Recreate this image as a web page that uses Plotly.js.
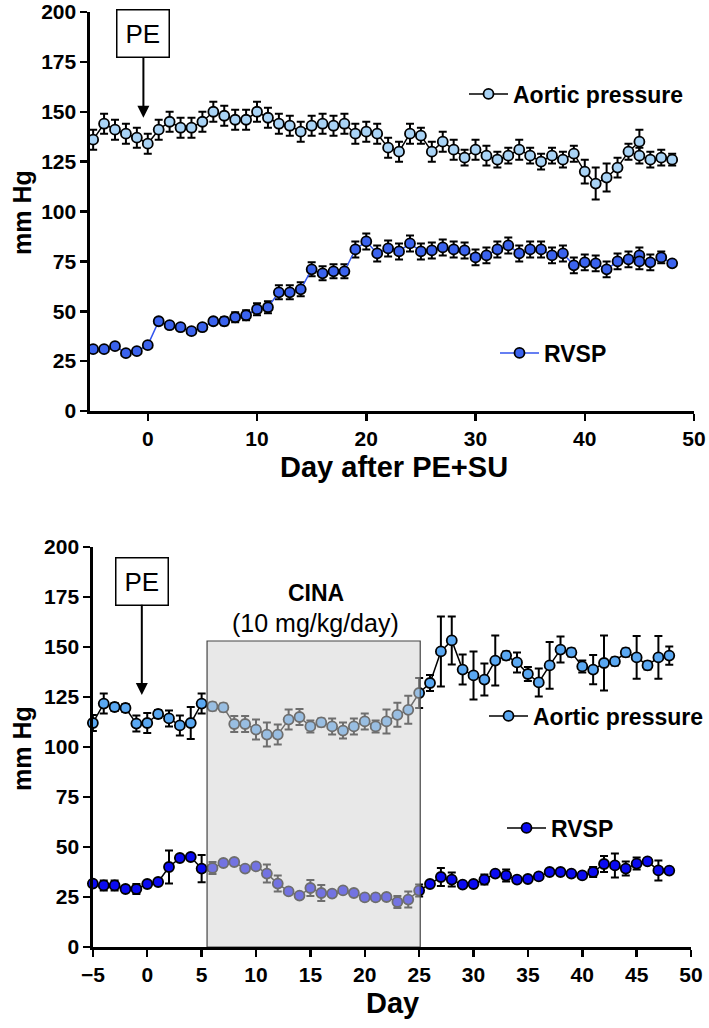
<!DOCTYPE html>
<html>
<head>
<meta charset="utf-8">
<script src="https://cdn.plot.ly/plotly-3.0.1.min.js"></script>
<style>
  html, body { margin: 0; padding: 0; background: #fff; }
  #chart { width: 709px; height: 1028px; }
</style>
</head>
<body>
<div id="chart"></div>
<script>
  // --- Top panel: PE+SU model (day 45 was measured twice) ---
  const topDays = [-5, -4, -3, -2, -1, 0, 1, 2, 3, 4, 5, 6, 7, 8, 9, 10, 11, 12, 13, 14,
    15, 16, 17, 18, 19, 20, 21, 22, 23, 24, 25, 26, 27, 28, 29, 30, 31, 32, 33, 34,
    35, 36, 37, 38, 39, 40, 41, 42, 43, 44, 45, 45, 46, 47, 48];
  const topAortic = [136, 144, 141, 139, 137, 134, 141, 145, 142, 142, 145, 150, 148, 146, 146, 150, 147, 144, 143, 140,
    143, 144, 143, 144, 139, 140, 139, 132, 130, 139, 138, 130, 135, 131, 127, 131, 128, 126, 128, 131,
    128, 125, 128, 126, 129, 120, 114, 117, 122, 130, 135, 128, 126, 127, 126];
  const topAorticErr = [5, 5, 5, 5, 5, 5, 5, 5, 5, 5, 5, 5, 5, 5, 5, 5, 5, 5, 5, 5,
    5, 5, 5, 5, 5, 5, 5, 5, 5, 5, 4, 5, 5, 5, 4, 5, 5, 4, 4, 5,
    4, 4, 4, 4, 4, 6, 8, 7, 5, 4, 6, 4, 4, 4, 3];
  const topRvsp = [31, 31, 32.5, 29, 30, 33, 45, 43, 42, 40, 42, 45, 45, 47, 48, 51, 52, 59.5, 59.5, 61,
    71, 69, 70, 70, 81, 85, 79, 81.5, 80, 84, 80, 80.5, 82, 81, 80.5, 77, 78, 81, 83, 79,
    81, 81, 78, 79, 73, 74.5, 74, 71, 75, 76, 78, 75, 74.5, 77, 74];
  const topRvspErr = [1, 1, 1, 1, 1, 1, 1.5, 1.5, 1.5, 1.5, 1.5, 1.5, 2, 2.5, 2.5, 3, 3, 3.5, 3.5, 3.5,
    3.5, 3.5, 3.5, 3.5, 4, 4, 4, 4, 4, 4, 4, 4, 4, 4, 4, 4, 4, 4, 4, 4,
    4, 4, 4, 4, 4, 4, 4, 4, 4, 4, 4, 4, 4, 3, 0];

  // --- Bottom panel: PE model with CINA treatment ---
  const botDays = [-5, -4, -3, -2, -1, 0, 1, 2, 3, 4, 5, 6, 7, 8, 9, 10, 11, 12, 13, 14,
    15, 16, 17, 18, 19, 20, 21, 22, 23, 24, 25, 26, 27, 28, 29, 30, 31, 32, 33, 34,
    35, 36, 37, 38, 39, 40, 41, 42, 43, 44, 45, 46, 47, 48];
  const botAortic = [112, 121.7, 120, 119.5, 111.7, 112, 116.5, 114.3, 110.8, 112, 121.7, 120.3, 119.8, 111.5, 111.5, 108.7, 106.2, 106.2, 113.7, 115,
    110.3, 112.3, 110.3, 108.2, 110.3, 112.8, 110.3, 112.8, 116.1, 118.6, 127, 132, 147.8, 153.3, 138.7, 135.8, 133.7, 143.2, 145.7, 142.3,
    136.5, 132.3, 140.8, 148.7, 147.3, 140.3, 138.7, 142, 142.8, 147.3, 144.8, 140.8, 144.8, 145.7];
  const botAorticErr = [4, 5, 2, 2, 4, 5, 2, 4, 5, 8, 5, 2, 2, 4, 4, 5, 6, 5, 5, 4,
    3, 2, 4, 4, 4, 4, 3, 6, 6, 7, 7.5, 4, 17.5, 12, 7.5, 12, 8, 12.5, 2, 5,
    3.5, 7, 11.7, 6.5, 2, 3, 7.3, 13.7, 2, 2, 10.7, 2, 10.7, 4.6];
  const botRvsp = [31.7, 30.8, 30.8, 29, 29, 31.5, 32.5, 40, 44.5, 45, 39.2, 39.5, 42, 42.5, 39.2, 40.3, 36.7, 31.7, 27.8, 25.7,
    29.5, 27, 26.7, 28.3, 27, 24.8, 24.8, 25, 22.5, 23.7, 28.2, 31.5, 35, 33.7, 31.2, 31.5, 33.7, 36.7, 35.7, 33.7,
    34, 35.3, 37.5, 37.5, 36.7, 35.8, 37.5, 41.5, 40.8, 39.2, 41.7, 42.8, 38.3, 38.2];
  const botRvspErr = [1, 2.5, 2.5, 1, 2.5, 1, 1, 8.3, 1, 1, 6.8, 3, 1, 1.5, 1, 1, 4.5, 4, 1, 1,
    4, 4, 1, 1, 1, 1.5, 1.5, 1.5, 3, 4, 3, 1, 4.5, 3.5, 1, 1, 2.5, 1, 3, 1,
    1, 1.5, 1, 1, 1, 1, 2.5, 4, 6, 3.5, 3, 1, 5, 1];

  // treatment window and its label
  const cinaStart = 5.5, cinaEnd = 25.1, cinaTop = 153;
  const cinaLabel = ["CINA", "(10 mg/kg/day)"];

  const yTicks = [0, 25, 50, 75, 100, 125, 150, 175, 200];

  const W = 709, H = 1028;
  const FONT = "Liberation Sans, Arial, Helvetica, sans-serif";
  const px = (v) => v / W;
  const py = (v) => (H - v) / H;

  function series(x, y, err, name, fill, lineColor, xa, ya, legend) {
    return {
      x: x, y: y, name: name, type: "scatter", mode: "lines+markers",
      xaxis: xa, yaxis: ya, legend: legend,
      line: { color: lineColor, width: 1.5 },
      marker: { size: 10, color: fill, line: { color: "#000", width: 1.8 } },
      error_y: { type: "data", array: err, visible: true, color: "#000", thickness: 2, width: 4 },
      cliponaxis: false
    };
  }

  const data = [
    series(topDays, topAortic, topAorticErr, "Aortic pressure", "#a9d3f5", "#000", "x", "y", "legend"),
    series(topDays, topRvsp, topRvspErr, "RVSP", "#3b63ee", "#3355ee", "x", "y", "legend2"),
    series(botDays, botAortic, botAorticErr, "Aortic pressure", "#5aa8f2", "#000", "x2", "y2", "legend3"),
    series(botDays, botRvsp, botRvspErr, "RVSP", "#0b0bf2", "#000", "x2", "y2", "legend4")
  ];

  const axisCommon = {
    showline: true, linecolor: "#000", linewidth: 2.5,
    ticks: "outside", ticklen: 7, tickwidth: 2.5, tickcolor: "#000",
    showgrid: false, zeroline: false,
    tickfont: { family: FONT, size: 21, color: "#000", weight: "bold" }
  };

  const legendCommon = {
    xanchor: "left", yanchor: "middle", bgcolor: "rgba(0,0,0,0)",
    font: { family: FONT, size: 23, color: "#000", weight: "bold" },
    itemwidth: 39, tracegroupgap: 0
  };

  function axisTitle(text, x, y, angle) {
    return {
      xref: "paper", yref: "paper", x: px(x), y: py(y), text: "<b>" + text + "</b>",
      showarrow: false, textangle: angle, xanchor: "center", yanchor: "middle",
      font: { family: FONT, size: angle ? 25 : 29, color: "#000" }
    };
  }

  const layout = {
    width: W, height: H,
    margin: { l: 0, r: 0, t: 0, b: 0 },
    paper_bgcolor: "#fff", plot_bgcolor: "rgba(0,0,0,0)",
    font: { family: FONT, color: "#000" },
    showlegend: true,
    xaxis: Object.assign({}, axisCommon, {
      domain: [px(90), px(695)], range: [-5.3, 50], dtick: 10, tick0: 0, anchor: "y"
    }),
    yaxis: Object.assign({}, axisCommon, {
      domain: [py(411), py(12)], range: [0, 200], tickvals: yTicks, anchor: "x"
    }),
    xaxis2: Object.assign({}, axisCommon, {
      domain: [px(93), px(692)], range: [-5, 50], dtick: 5, tick0: 0, anchor: "y2"
    }),
    yaxis2: Object.assign({}, axisCommon, {
      domain: [py(947), py(547)], range: [0, 200], tickvals: yTicks, anchor: "x2"
    }),
    legend: Object.assign({}, legendCommon, { x: px(464), y: py(94) }),
    legend2: Object.assign({}, legendCommon, { x: px(495), y: py(353) }),
    legend3: Object.assign({}, legendCommon, { x: px(485), y: py(716) }),
    legend4: Object.assign({}, legendCommon, { x: px(502), y: py(828) }),
    shapes: [{
      type: "rect", xref: "x2", yref: "y2", layer: "above",
      x0: cinaStart, x1: cinaEnd, y0: 0, y1: cinaTop,
      fillcolor: "rgba(211,211,211,0.52)", line: { color: "#444", width: 1.2 }
    }],
    annotations: [
      axisTitle("Day after PE+SU", 395, 467, 0),
      axisTitle("Day", 393, 1003, 0),
      axisTitle("mm Hg", 22, 212, -90),
      axisTitle("mm Hg", 22, 748, -90),
      {
        xref: "x", yref: "y", x: -0.4, y: 147, text: "PE",
        showarrow: true, arrowhead: 2, arrowsize: 1.2, arrowwidth: 2, arrowcolor: "#000",
        ax: 0, ay: -84, bordercolor: "#000", borderwidth: 1.5, borderpad: 8, bgcolor: "#fff",
        font: { family: FONT, size: 26, color: "#000" }
      },
      {
        xref: "x2", yref: "y2", x: -0.5, y: 126, text: "PE",
        showarrow: true, arrowhead: 2, arrowsize: 1.2, arrowwidth: 2, arrowcolor: "#000",
        ax: 0, ay: -114, bordercolor: "#000", borderwidth: 1.5, borderpad: 8, bgcolor: "#fff",
        font: { family: FONT, size: 26, color: "#000" }
      },
      {
        xref: "x2", yref: "y2", x: 15.5, y: 177, text: "<b>" + cinaLabel[0] + "</b>",
        showarrow: false, font: { family: FONT, size: 23, color: "#000" }
      },
      {
        xref: "x2", yref: "y2", x: 15.5, y: 162, text: cinaLabel[1],
        showarrow: false, font: { family: FONT, size: 25, color: "#000" }
      }
    ]
  };

  Plotly.newPlot("chart", data, layout, { displayModeBar: false, staticPlot: true });
</script>
</body>
</html>
